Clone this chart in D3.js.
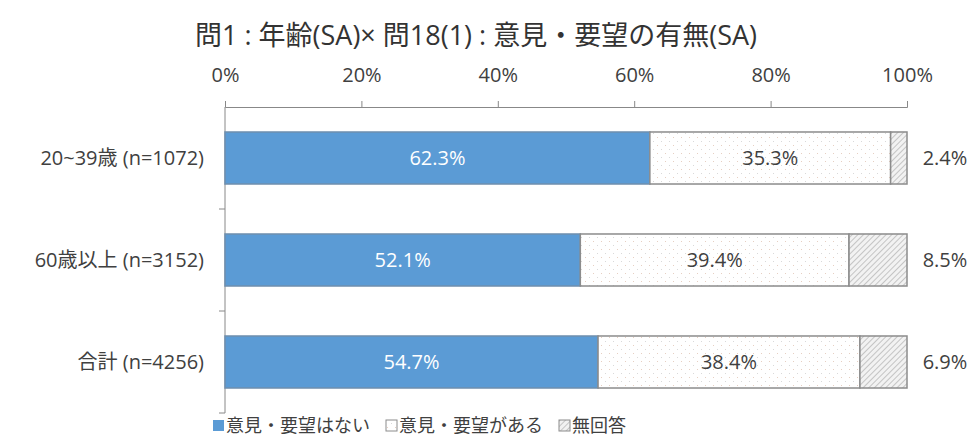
<!DOCTYPE html>
<html>
<head>
<meta charset="utf-8">
<script src="https://cdn.jsdelivr.net/npm/d3@7"></script>
<style>
  body { margin: 0; background: #fff; }
  text { font-family: "Open Sans", "Noto Sans CJK JP", sans-serif; }
</style>
</head>
<body>
<div id="chart"></div>
<script>
const categories = ['20~39歳 (n=1072)', '60歳以上 (n=3152)', '合計 (n=4256)'];
const seriesNames = ['意見・要望はない', '意見・要望がある', '無回答'];
const noOpinion = [62.3, 52.1, 54.7];
const hasOpinion = [35.3, 39.4, 38.4];
const noAnswer = [2.4, 8.5, 6.9];
const tickValues = [0, 20, 40, 60, 80, 100];

const width = 975;
const height = 439;
const margin = { top: 107, right: 68, bottom: 26, left: 225 };
const font = '"Open Sans", "Noto Sans CJK JP", sans-serif';

const d3 = window.d3;
const svg = d3.select('#chart').append('svg')
  .attr('width', width)
  .attr('height', height);

const defs = svg.append('defs');
const dots = defs.append('pattern')
  .attr('id', 'dots')
  .attr('patternUnits', 'userSpaceOnUse')
  .attr('width', 8).attr('height', 8);
dots.append('rect').attr('width', 8).attr('height', 8).attr('fill', '#fff');
dots.append('rect').attr('x', 1).attr('y', 1).attr('width', 1).attr('height', 1).attr('fill', '#e6cfc2');
dots.append('rect').attr('x', 5).attr('y', 5).attr('width', 1).attr('height', 1).attr('fill', '#d9d9d9');

const hatch = defs.append('pattern')
  .attr('id', 'hatch')
  .attr('patternUnits', 'userSpaceOnUse')
  .attr('width', 4).attr('height', 4)
  .attr('patternTransform', 'rotate(45)');
hatch.append('rect').attr('width', 4).attr('height', 4).attr('fill', '#f2f2f2');
hatch.append('line').attr('x1', 0).attr('y1', 0).attr('x2', 0).attr('y2', 4)
  .attr('stroke', '#a6a6a6').attr('stroke-width', 1.2);

const fills = ['#5b9bd5', 'url(#dots)', 'url(#hatch)'];
const textColors = ['#fff', '#404040', '#404040'];

const data = categories.map((c, i) => ({
  cat: c,
  vals: [noOpinion[i], hasOpinion[i], noAnswer[i]],
}));

const x = d3.scaleLinear()
  .domain([0, 100])
  .range([margin.left, width - margin.right]);

const y = d3.scaleBand()
  .domain(categories)
  .range([margin.top, height - margin.bottom])
  .paddingInner(0.49)
  .paddingOuter(0.245);

// title
svg.append('text')
  .attr('x', 476)
  .attr('y', 45)
  .attr('text-anchor', 'middle')
  .attr('font-size', 27)
  .attr('fill', '#333')
  .text('問1 : 年齢(SA)× 問18(1) : 意見・要望の有無(SA)');

// top axis
const xAxis = svg.append('g')
  .attr('transform', `translate(0,${margin.top})`)
  .call(d3.axisTop(x).tickValues(tickValues).tickFormat(d => d + '%').tickSize(6).tickSizeOuter(6));
xAxis.select('.domain').attr('stroke', '#888');
xAxis.selectAll('.tick line').attr('stroke', '#888');
xAxis.selectAll('.tick text')
  .attr('font-size', 20).attr('fill', '#404040').attr('y', -25)
  .attr('font-family', font);

// left axis with boundary ticks
const yEdges = d3.range(categories.length + 1).map(i =>
  margin.top + i * (height - margin.bottom - margin.top) / categories.length);
const yAxisG = svg.append('g');
yAxisG.append('line')
  .attr('x1', margin.left).attr('x2', margin.left)
  .attr('y1', margin.top).attr('y2', height - margin.bottom)
  .attr('stroke', '#888');
yAxisG.selectAll('line.tk')
  .data(yEdges.slice(1))
  .join('line')
  .attr('class', 'tk')
  .attr('x1', margin.left - 6).attr('x2', margin.left)
  .attr('y1', d => d).attr('y2', d => d)
  .attr('stroke', '#888');
yAxisG.selectAll('text')
  .data(categories)
  .join('text')
  .attr('x', margin.left - 21)
  .attr('y', d => y(d) + y.bandwidth() / 2)
  .attr('dy', '0.35em')
  .attr('text-anchor', 'end')
  .attr('font-size', 20)
  .attr('fill', '#404040')
  .text(d => d);

// bars
const rows = svg.append('g').selectAll('g')
  .data(data)
  .join('g');

rows.each(function(d) {
  const g = d3.select(this);
  let acc = 0;
  d.vals.forEach((v, k) => {
    const x0 = x(acc);
    const x1 = x(acc + v);
    g.append('rect')
      .attr('x', x0)
      .attr('y', y(d.cat))
      .attr('width', x1 - x0)
      .attr('height', y.bandwidth())
      .attr('fill', fills[k])
      .attr('stroke', k === 0 ? '#6f8fae' : '#8c8c8c')
      .attr('stroke-width', 1.5);
    const outside = k === 2;
    g.append('text')
      .attr('x', outside ? x(100) + 38 : (x0 + x1) / 2)
      .attr('y', y(d.cat) + y.bandwidth() / 2)
      .attr('dy', '0.35em')
      .attr('text-anchor', 'middle')
      .attr('font-size', 20)
      .attr('fill', textColors[k])
      .text(v.toFixed(1) + '%');
    acc += v;
  });
});

// legend
const legendX = [213, 386, 559];
const legend = svg.append('g').selectAll('g')
  .data(seriesNames)
  .join('g')
  .attr('transform', (d, i) => `translate(${legendX[i]},426)`);
legend.append('rect')
  .attr('x', 0).attr('y', -6)
  .attr('width', 11).attr('height', 11)
  .attr('fill', (d, i) => fills[i])
  .attr('stroke', (d, i) => i === 0 ? 'none' : '#8c8c8c');
legend.append('text')
  .attr('x', 13)
  .attr('dy', '0.35em')
  .attr('font-size', 18)
  .attr('fill', '#404040')
  .text(d => d);
</script>
</body>
</html>
